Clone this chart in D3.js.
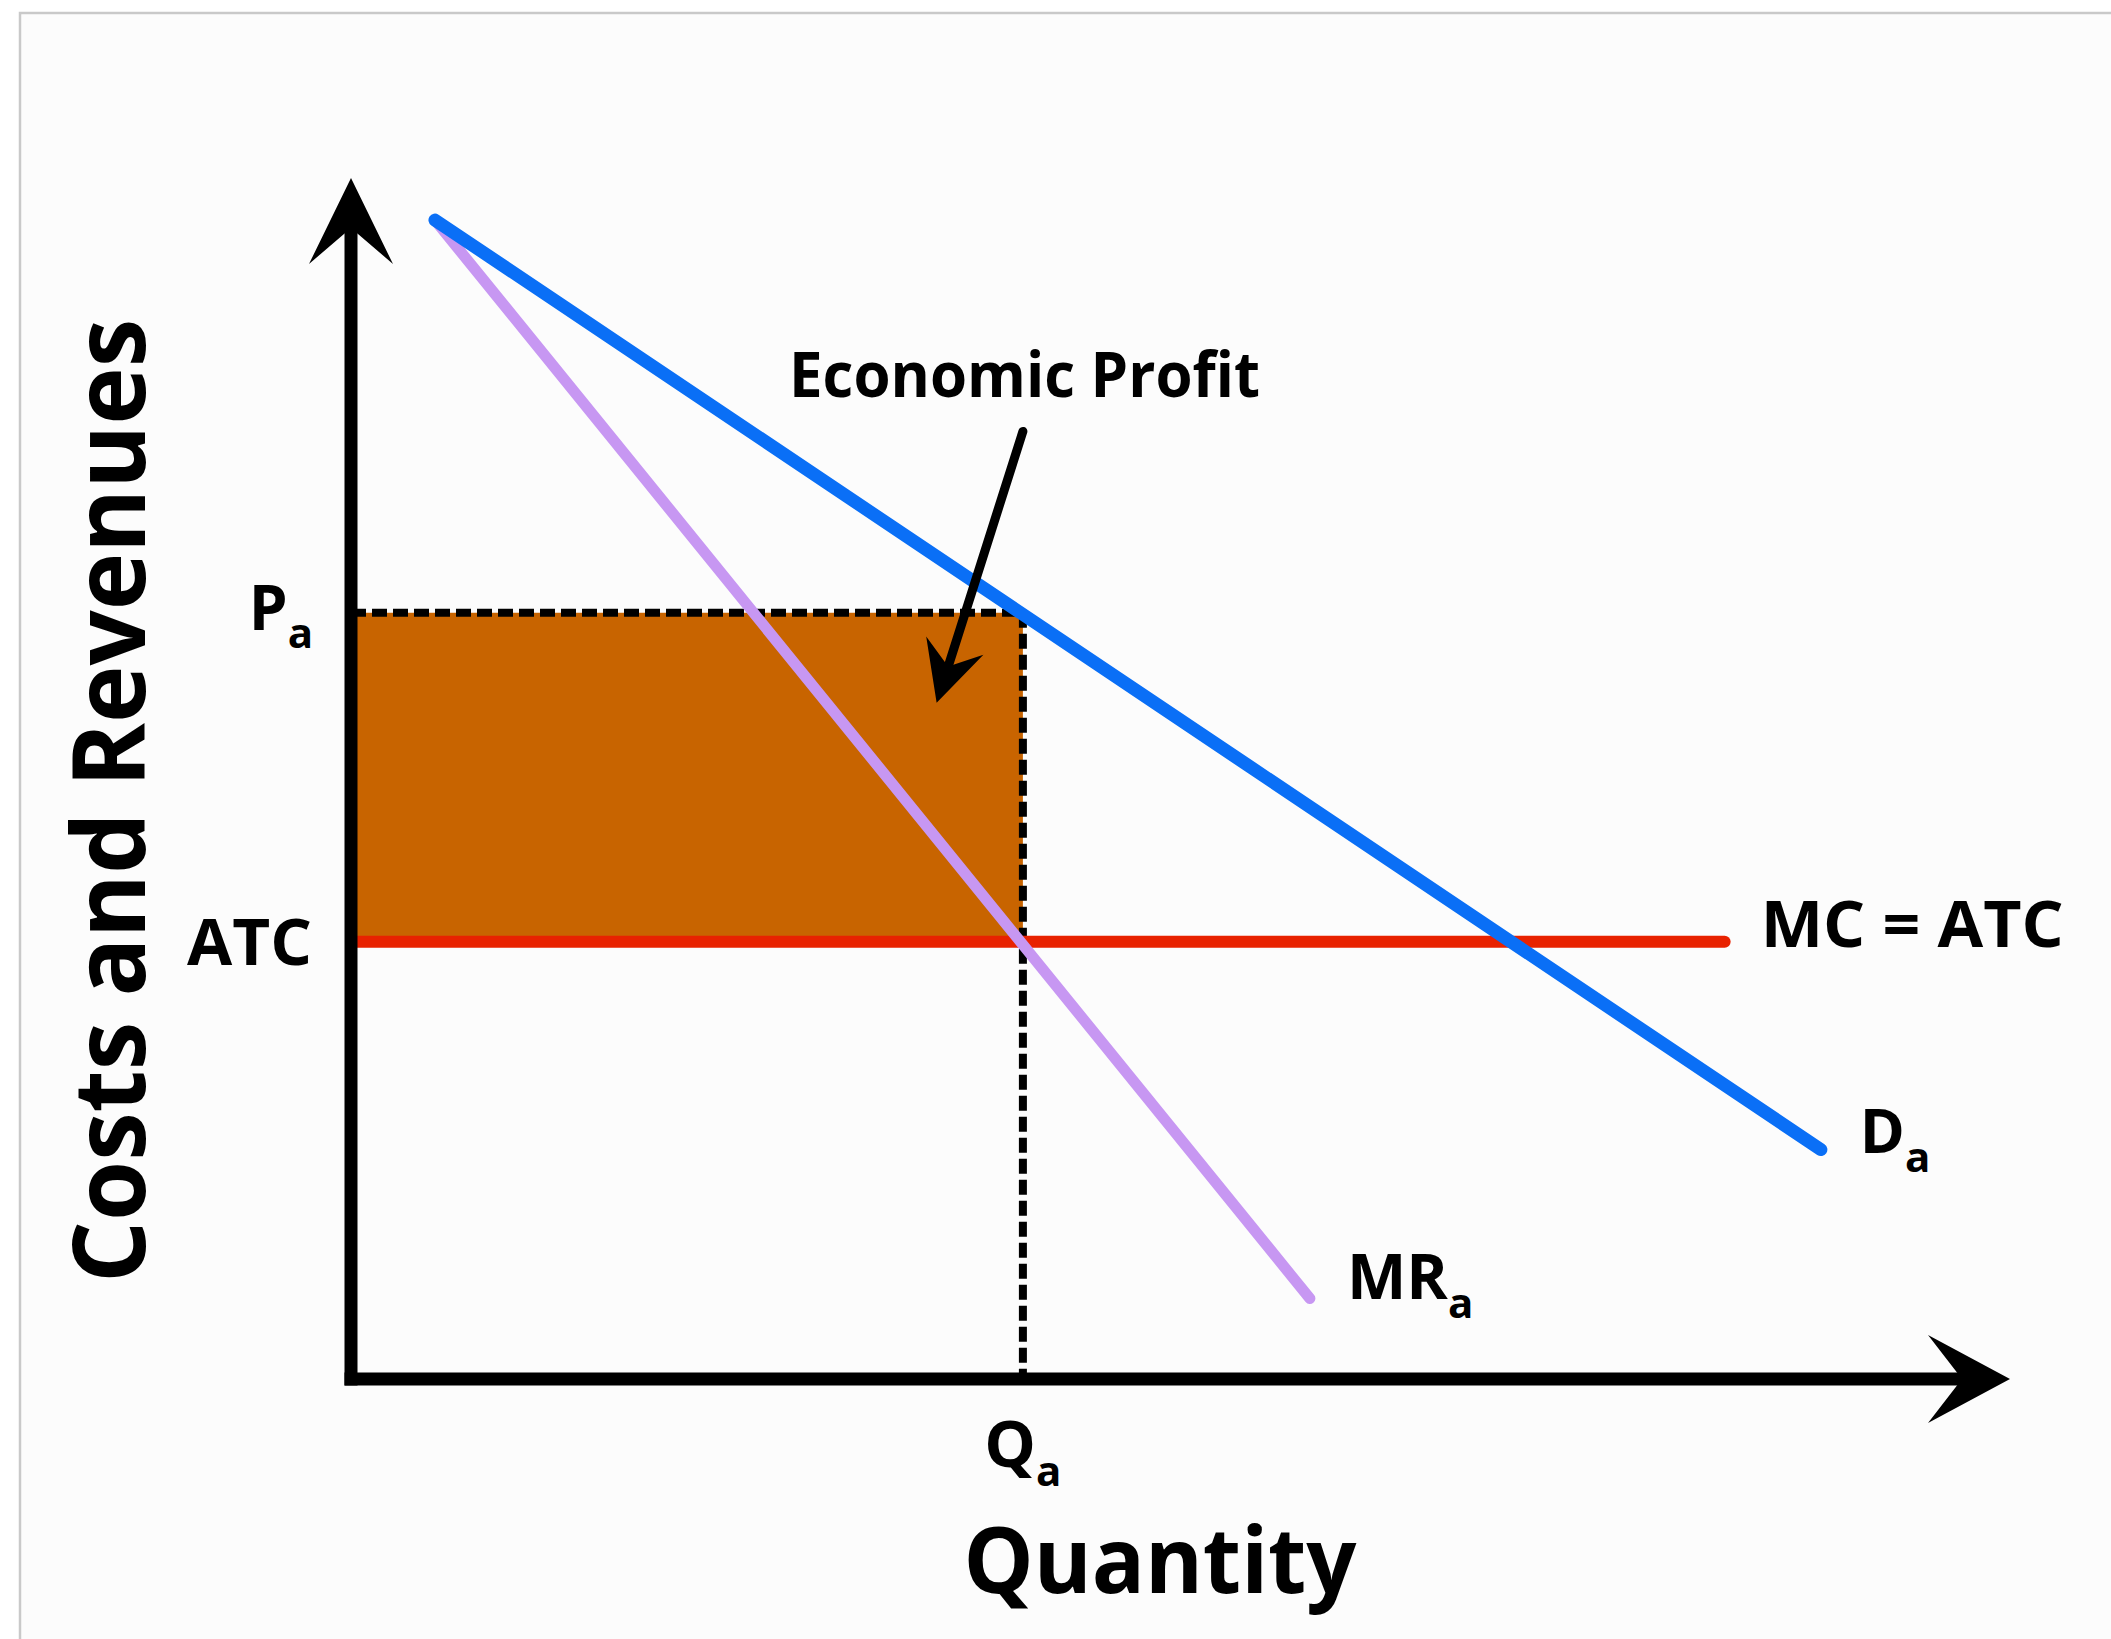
<!DOCTYPE html>
<html>
<head>
<meta charset="utf-8">
<script src="https://cdn.jsdelivr.net/npm/d3@7"></script>
<style>
  html, body { margin: 0; padding: 0; background: #ffffff; }
  svg { display: block; }
  text { font-family: "Open Sans", "Noto Sans", sans-serif; fill: #000; }
</style>
</head>
<body>
<script>
// ---------- data (chart units: quantity 0..100, cost/revenue 0..100) ----------
const axisMax = { q: 100, p: 100 };
const demandCurve = [ { q: 5.06, p: 96.5 }, { q: 88.6, p: 19.1 } ];
const marginalRevenueCurve = [ { q: 5.06, p: 96.5 }, { q: 57.8, p: 6.7 } ];
const marginalCostCurve = [ { q: 0, p: 36.4 }, { q: 82.8, p: 36.4 } ];
const priceA = 63.8;
const atcA = 36.4;
const quantityA = 40.5;
const profitArrow = [ { q: 40.5, p: 78.9 }, { q: 35.3, p: 56.3 } ];
const profitLabel = { text: "Economic Profit", q: 40.6, p: 81.8 };
const yTickLabels = [ { main: "P", sub: "a", p: priceA }, { main: "ATC", sub: "", p: atcA } ];
const xTickLabels = [ { main: "Q", sub: "a", q: quantityA } ];
const curveLabels = [
  { main: "MC = ATC", sub: "", curve: "mc" },
  { main: "D", sub: "a", curve: "d" },
  { main: "MR", sub: "a", curve: "mr" }
];
const xTitle = "Quantity";
const yTitle = "Costs and Revenues";

// ---------- layout ----------
const W = 2111, H = 1639;
const x = d3.scaleLinear().domain([0, axisMax.q]).range([351, 2010]);
const y = d3.scaleLinear().domain([0, axisMax.p]).range([1379, 178]);

const svg = d3.select("body").append("svg").attr("width", W).attr("height", H);

// frame
svg.append("rect").attr("x", 20).attr("y", 13).attr("width", W).attr("height", H)
  .attr("fill", "#fcfcfc").attr("stroke", "#c9c9c9").attr("stroke-width", 2.5);

const line = d3.line().x(d => x(d.q)).y(d => y(d.p));

// profit rectangle
svg.append("rect")
  .attr("x", x(0)).attr("y", y(priceA))
  .attr("width", x(quantityA) - x(0)).attr("height", y(atcA) - y(priceA))
  .attr("fill", "#c86400");

// dashed guides
svg.append("path")
  .attr("d", line([{ q: 0, p: priceA }, { q: quantityA, p: priceA }, { q: quantityA, p: 0 }]))
  .attr("fill", "none").attr("stroke", "#000").attr("stroke-width", 8)
  .attr("stroke-dasharray", "15 6");

// MC = ATC
svg.append("path").attr("d", line(marginalCostCurve))
  .attr("fill", "none").attr("stroke", "#e82200").attr("stroke-width", 12).attr("stroke-linecap", "round");

// MR
svg.append("path").attr("d", line(marginalRevenueCurve))
  .attr("fill", "none").attr("stroke", "#c797f2").attr("stroke-width", 11).attr("stroke-linecap", "round");

// Demand
svg.append("path").attr("d", line(demandCurve))
  .attr("fill", "none").attr("stroke", "#0a6ff6").attr("stroke-width", 13).attr("stroke-linecap", "round");

// axes
const axisW = 13;
function arrowHead(tx, ty, angleDeg, len, half, notch) {
  return svg.append("path")
    .attr("d", `M0,0 L${-len},${-half} L${-notch},0 L${-len},${half} Z`)
    .attr("transform", `translate(${tx},${ty}) rotate(${angleDeg})`)
    .attr("fill", "#000");
}
svg.append("line")
  .attr("x1", x(0)).attr("y1", y(0) + axisW / 2)
  .attr("x2", x(0)).attr("y2", y(axisMax.p) + 30)
  .attr("stroke", "#000").attr("stroke-width", axisW);
svg.append("line")
  .attr("x1", x(0) - axisW / 2).attr("y1", y(0))
  .attr("x2", x(axisMax.q) - 30).attr("y2", y(0))
  .attr("stroke", "#000").attr("stroke-width", axisW);
arrowHead(x(0), y(axisMax.p), -90, 86, 42, 50);
arrowHead(x(axisMax.q), y(0), 0, 82, 44, 48);

// annotation arrow
{
  const a = profitArrow[0], b = profitArrow[1];
  const x1 = x(a.q), y1 = y(a.p), x2 = x(b.q), y2 = y(b.p);
  const ang = Math.atan2(y2 - y1, x2 - x1);
  const back = 26;
  svg.append("line")
    .attr("x1", x1).attr("y1", y1)
    .attr("x2", x2 - back * Math.cos(ang)).attr("y2", y2 - back * Math.sin(ang))
    .attr("stroke", "#000").attr("stroke-width", 9).attr("stroke-linecap", "round");
  arrowHead(x2, y2, ang * 180 / Math.PI, 60, 30, 38);
}

// text helpers
function subLabel(tx, ty, d, anchor, size, subSize, subDy) {
  const t = svg.append("text").attr("x", tx).attr("y", ty)
    .attr("text-anchor", anchor).attr("font-size", size).attr("font-weight", 700);
  t.append("tspan").text(d.main);
  if (d.sub) t.append("tspan").attr("font-size", subSize).attr("dy", subDy).text(d.sub);
  return t;
}

// y-axis labels
yTickLabels.forEach(d => {
  if (d.sub) subLabel(x(0) - 38, y(d.p) + 17, d, "end", 62, 42, 18);
  else subLabel(x(0) - 39, y(d.p) + 23, d, "end", 64, 42, 0).attr("textLength", 125).attr("lengthAdjust", "spacingAndGlyphs");
});
// x-axis labels
xTickLabels.forEach(d => {
  subLabel(x(d.q), y(0) + 88, d, "middle", 65, 42, 19);
});
// curve labels
const curveEnds = {
  mc: marginalCostCurve[marginalCostCurve.length - 1],
  d: demandCurve[demandCurve.length - 1],
  mr: marginalRevenueCurve[marginalRevenueCurve.length - 1]
};
curveLabels.forEach(d => {
  const e = curveEnds[d.curve];
  if (d.curve === "mc") {
    subLabel(x(e.q) + 36, y(e.p) + 5, d, "start", 65, 42, 0).attr("textLength", 303).attr("lengthAdjust", "spacingAndGlyphs");
  } else if (d.curve === "d") {
    subLabel(x(e.q) + 39, y(e.p) + 3, d, "start", 61, 42, 19);
  } else {
    subLabel(x(e.q) + 37, y(e.p) + 0, d, "start", 63, 42, 19);
  }
});

// annotation text
svg.append("text")
  .attr("x", x(profitLabel.q)).attr("y", y(profitLabel.p))
  .attr("text-anchor", "middle").attr("font-size", 62).attr("font-weight", 700)
  .attr("textLength", 471).attr("lengthAdjust", "spacingAndGlyphs")
  .text(profitLabel.text);

// axis titles
svg.append("text")
  .attr("x", 1160).attr("y", y(0) + 214)
  .attr("text-anchor", "middle").attr("font-size", 92).attr("font-weight", 700)
  .attr("textLength", 393).attr("lengthAdjust", "spacingAndGlyphs")
  .text(xTitle);
svg.append("text")
  .attr("transform", `translate(145, 801) rotate(-90)`)
  .attr("text-anchor", "middle").attr("font-size", 100).attr("font-weight", 700)
  .attr("textLength", 964).attr("lengthAdjust", "spacingAndGlyphs")
  .text(yTitle);
</script>
</body>
</html>
